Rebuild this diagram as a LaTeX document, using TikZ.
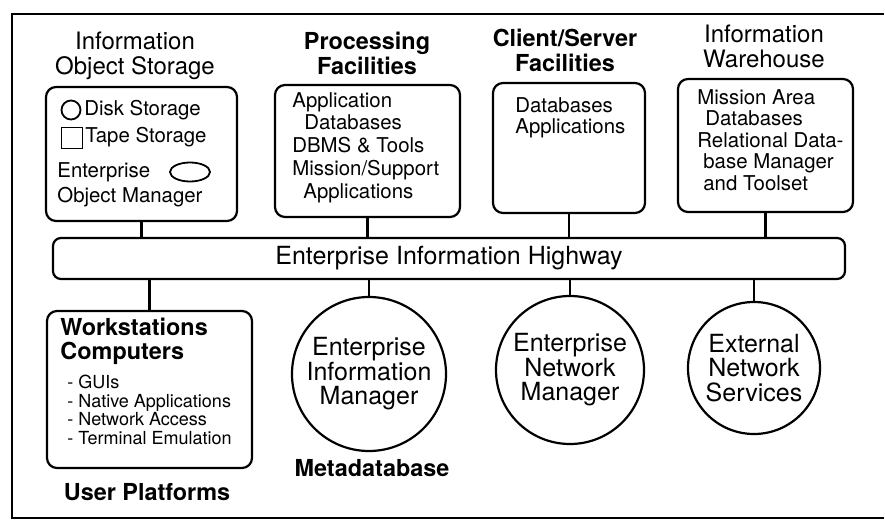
\documentclass[tikz,border=0pt]{standalone}
\usepackage{fontspec}
\setmainfont{TeX Gyre Heros}
\usetikzlibrary{shapes.geometric}
\tikzset{
  box/.style={draw, line width=1.1pt, rounded corners=5pt, inner sep=0pt},
  hub/.style={draw, circle, line width=1.1pt, inner sep=0pt, align=center,
    font=\fontsize{12.5}{12.2}\selectfont},
  head/.style={align=center, inner sep=0pt, font=\fontsize{12}{12.5}\selectfont},
  bhead/.style={align=center, inner sep=0pt, font=\bfseries\fontsize{11.7}{12.5}\selectfont},
  txt/.style={anchor=west, align=left, inner sep=0pt, font=\fontsize{10.2}{11}\selectfont},
  sym/.style={draw, line width=0.9pt, inner sep=0pt},
  link/.style={line width=1.1pt},
}
\begin{document}
\begin{tikzpicture}[x=0.5pt, y=-0.5pt]
    \useasboundingbox (0,0) rectangle (885,525);
    \draw[line width=0.9pt] (884,14) -- (12,14) -- (12,518) -- (884,518);

    % highway
    \node[box, rounded corners=4pt, minimum width=396pt, minimum height=20.5pt,
      font=\fontsize{12.5}{13}\selectfont] (hwy) at (449,258.5) {Enterprise Information Highway};

    % upper row
    \node[head] (oshead) at (135,55.5) {Information\\Object Storage};
    \node[box, minimum width=95.5pt, minimum height=67pt] (os) at (141.5,154) {};
    \node[sym, circle, minimum size=9.5pt] (disk) at (71,110) {};
    \node[txt] (disktxt) at (84,110) {Disk Storage};
    \node[sym, minimum size=10.5pt] (tape) at (72,138) {};
    \node[txt] (tapetxt) at (85,137) {Tape Storage};
    \node[txt, font=\fontsize{10.2}{12.5}\selectfont] (eomtxt) at (57,184.5) {Enterprise\\Object Manager};
    \node[sym, ellipse, minimum width=20pt, minimum height=9.5pt] (eom) at (190,172) {};

    \node[bhead] (pfhead) at (367,53.5) {Processing\\Facilities};
    \node[box, minimum width=92.5pt, minimum height=66pt] (pf) at (367.5,151) {};
    \node[txt, font=\fontsize{10.2}{11.4}\selectfont] (pftxt) at (292,147.5)
      {Application\\\hspace*{6pt}Databases\\DBMS \& Tools\\Mission/Support\\\hspace*{5.5pt}Applications};

    \node[bhead] (cshead) at (565,50.5) {Client/Server\\Facilities};
    \node[box, minimum width=76pt, minimum height=65pt] (cs) at (569,148) {};
    \node[txt, font=\fontsize{10.2}{10.5}\selectfont] (cstxt) at (515,117.5) {Databases\\Applications};

    \node[head] (iwhead) at (764,46.5) {Information\\Warehouse};
    \node[box, minimum width=87.5pt, minimum height=66.5pt] (iw) at (765.5,145.5) {};
    \node[txt, font=\fontsize{10.2}{10.75}\selectfont] (iwtxt) at (697,140)
      {Mission Area\\\hspace*{4pt}Databases\\Relational Data-\\\hspace*{3pt}base Manager\\\hspace*{3pt}and Toolset};

    % lower row
    \node[box, minimum width=102.5pt, minimum height=78.5pt] (ws) at (149.5,389.5) {};
    \node[txt, font=\bfseries\fontsize{11.7}{12}\selectfont] (wshead) at (60,341) {Workstations\\Computers};
    \node[txt, font=\fontsize{9}{9.3}\selectfont] (wstxt) at (67,410)
      {- GUIs\\- Native Applications\\- Network Access\\- Terminal Emulation};
    \node[bhead] (upl) at (147,492) {User Platforms};

    \node[hub, minimum size=77pt] (eim) at (369,374) {Enterprise\\Information\\Manager};
    \node[bhead] (meta) at (372,468) {Metadatabase};
    \node[hub, minimum size=74pt] (enm) at (570,370) {Enterprise\\Network\\Manager};
    \node[hub, minimum size=66pt] (ens) at (754,368) {External\\Network\\Services};

    % links
    \foreach \n in {os,pf,cs,iw}
      \draw[link] (\n.south) -- (\n.south |- hwy.north);
    \foreach \n in {ws,eim,enm,ens}
      \draw[link] (\n.north) -- (\n.north |- hwy.south);
\end{tikzpicture}
\end{document}
